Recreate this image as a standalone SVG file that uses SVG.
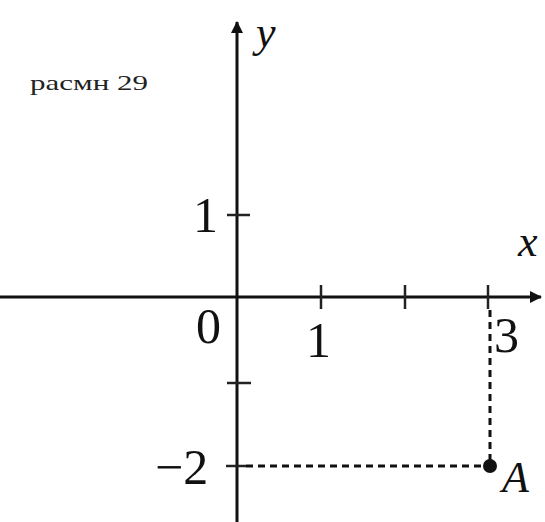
<svg xmlns="http://www.w3.org/2000/svg" width="545" height="522" viewBox="0 0 545 522">
<style>
.ax{stroke:#111;stroke-width:3;fill:none}
.tk{stroke:#222;stroke-width:2.5}
.ds{stroke:#111;stroke-width:3;stroke-dasharray:7,5;fill:none}
.n{font-family:"Liberation Serif","Times New Roman",serif;font-size:50px;fill:#111}
.i{font-family:"Liberation Serif","Times New Roman",serif;font-style:italic;font-size:44px;fill:#111}
.c{font-family:"Liberation Serif","Times New Roman",serif;font-size:22px;fill:#222}
</style>
<defs>
<marker id="ar" markerWidth="12" markerHeight="12" refX="11" refY="6" orient="auto" markerUnits="userSpaceOnUse" viewBox="0 0 12 12">
<path d="M0,0 L12,6 L0,12 Z" fill="#111"/>
</marker>
</defs>
<rect width="545" height="522" fill="#fff"/>
<g id="axes">
<line class="ax" x1="0" y1="297" x2="541" y2="297" marker-end="url(#ar)"/>
<line class="ax" x1="237" y1="522" x2="237" y2="22" marker-end="url(#ar)"/>
</g>
<g id="ticks">
<line class="tk" x1="321" y1="285" x2="321" y2="309"/>
<line class="tk" x1="405" y1="285" x2="405" y2="309"/>
<line class="tk" x1="488" y1="285" x2="488" y2="309"/>
<line class="tk" x1="227" y1="215" x2="250" y2="215"/>
<line class="tk" x1="227" y1="383" x2="251" y2="383"/>
<line class="tk" x1="226" y1="466" x2="246" y2="466"/>
</g>
<g id="connectors">
<line class="ds" x1="490" y1="310" x2="490" y2="460"/>
<line class="ds" x1="246" y1="466" x2="484" y2="466"/>
</g>
<g id="pointA">
<circle cx="490" cy="466" r="7" fill="#111"/>
<text class="i" x="502" y="492">A</text>
</g>
<g id="labels">
<text class="c" x="30" y="90" textLength="118" lengthAdjust="spacingAndGlyphs">расмн 29</text>
<text class="i" x="256" y="47">y</text>
<text class="i" x="518" y="256">x</text>
<text class="n" x="193" y="232">1</text>
<text class="n" x="196" y="343">0</text>
<text class="n" x="306" y="357">1</text>
<text class="n" x="494" y="352">3</text>
<text class="n" x="155" y="484">−2</text>
</g>
</svg>
